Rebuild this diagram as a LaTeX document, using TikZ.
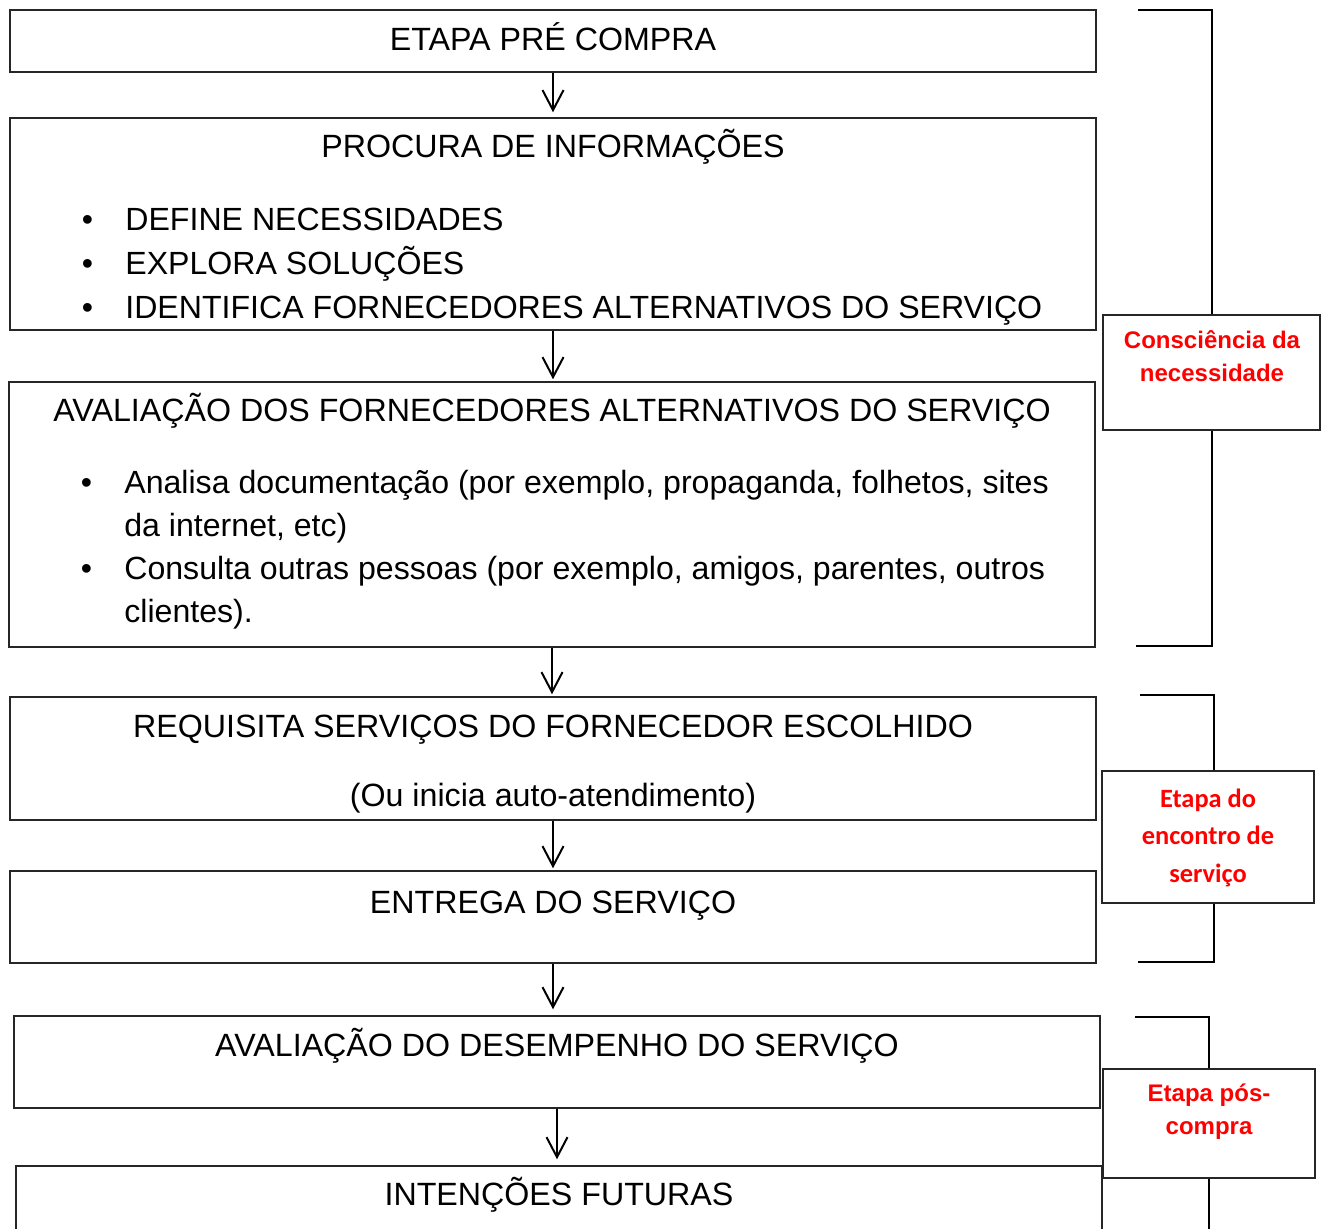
\documentclass[tikz,border=0pt]{standalone}
\usepackage{fontspec}
\setmainfont{Liberation Sans}
\newfontfamily\calibri{Carlito}
\usetikzlibrary{arrows.meta}
\newcommand{\marca}{\llap{\makebox[0pt]{\textbullet}\hspace{19pt}}}
\tikzset{
  etapa/.style={draw=black!85,line width=0.75pt,minimum width=543pt,inner sep=0pt},
  rotulo/.style={draw=black!85,line width=0.75pt,inner sep=0pt},
  texto/.style={anchor=base,inner sep=0pt,font=\fontsize{16.1}{22}\selectfont},
  lista/.style={anchor=base west,align=left,inner sep=0pt,font=\fontsize{16.05}{22}\selectfont},
  vermelho/.style={anchor=base,align=center,inner sep=0pt,text=red,font=\bfseries\fontsize{12}{16.5}\selectfont},
  seta/.style={-{Straight Barb[length=10pt,width=10.5pt]},line width=1pt},
  chave/.style={line width=1pt}
}
\begin{document}
\begin{tikzpicture}[x=0.5pt,y=-0.5pt]
\useasboundingbox (0,0) rectangle (1325,1228);
% caixas das etapas
\node[etapa,minimum height=31pt] (b1) at (553,41) {};
\node[etapa,minimum height=106pt] (b2) at (553,224) {};
\node[etapa,minimum height=132.5pt] (b3) at (552,514.5) {};
\node[etapa,minimum height=61.5pt] (b4) at (553,758.5) {};
\node[etapa,minimum height=46pt] (b5) at (553,917) {};
\node[etapa,minimum height=46pt] (b6) at (557,1062) {};
\node[etapa,minimum height=37pt] (b7) at (559,1203) {};
% textos (base = ultima linha)
\node[texto] (t1) at (553,50) {ETAPA PRÉ COMPRA};
\node[texto] (t2) at (553,157) {PROCURA DE INFORMAÇÕES};
\node[lista] (t2l) at (125,318) {\marca DEFINE NECESSIDADES\\\marca EXPLORA SOLUÇÕES\\\marca IDENTIFICA FORNECEDORES ALTERNATIVOS DO SERVIÇO};
\node[texto] (t3) at (552,421) {AVALIAÇÃO DOS FORNECEDORES ALTERNATIVOS DO SERVIÇO};
\node[lista,font=\fontsize{16.05}{21.5}\selectfont] (t3l) at (124,622) {\marca Analisa documentação (por exemplo, propaganda, folhetos, sites\\da internet, etc)\\\marca Consulta outras pessoas (por exemplo, amigos, parentes, outros\\clientes).};
\node[texto] (t4) at (553,737) {REQUISITA SERVIÇOS DO FORNECEDOR ESCOLHIDO};
\node[texto] (t4b) at (553,806) {(Ou inicia auto-atendimento)};
\node[texto] (t5) at (553,913) {ENTREGA DO SERVIÇO};
\node[texto] (t6) at (557,1056) {AVALIAÇÃO DO DESEMPENHO DO SERVIÇO};
\node[texto] (t7) at (559,1205) {INTENÇÕES FUTURAS};
% setas
\draw[seta] (b1.south) -- ([yshift=2.5pt]b1.south |- b2.north);
\draw[seta] (b2.south) -- ([yshift=1pt]b2.south |- b3.north);
\draw[seta] (b3.south) -- ([yshift=1pt]b3.south |- b4.north);
\draw[seta] (b4.south) -- ([yshift=1pt]b4.south |- b5.north);
\draw[seta] (b5.south) -- ([yshift=3pt]b5.south |- b6.north);
\draw[seta] (b6.south) -- ([yshift=3pt]b6.south |- b7.north);
% rotulos laterais
\node[rotulo,minimum width=108.5pt,minimum height=57.5pt] (l1) at (1211.5,372.5) {};
\node[rotulo,minimum width=106pt,minimum height=66pt] (l2) at (1208,837) {};
\node[rotulo,minimum width=106pt,minimum height=54.5pt] (l3) at (1209,1123.5) {};
\node[vermelho] (r1) at (1212,381) {Consciência da\\necessidade};
\node[vermelho,font=\calibri\bfseries\fontsize{13.2}{18.7}\selectfont] (r2) at (1208,882) {Etapa do\\encontro de\\serviço};
\node[vermelho] (r3) at (1209,1134) {Etapa pós-\\compra};
% chaves
\coordinate (k1a) at (1138,10);
\coordinate (k1b) at (1136,646);
\coordinate (k2a) at (1140,695);
\coordinate (k2b) at (1138,962);
\coordinate (k3a) at (1135,1017);
\coordinate (k3b) at (1210,1240);
\draw[chave] (k1a) -| (l1.north);
\draw[chave] (k1b) -| (l1.south);
\draw[chave] (k2a) -| ([xshift=3pt]l2.north);
\draw[chave] (k2b) -| ([xshift=3pt]l2.south);
\draw[chave] (k3a) -| (l3.north);
\draw[chave] (l3.south) -- (l3.south |- k3b);
\end{tikzpicture}
\end{document}
